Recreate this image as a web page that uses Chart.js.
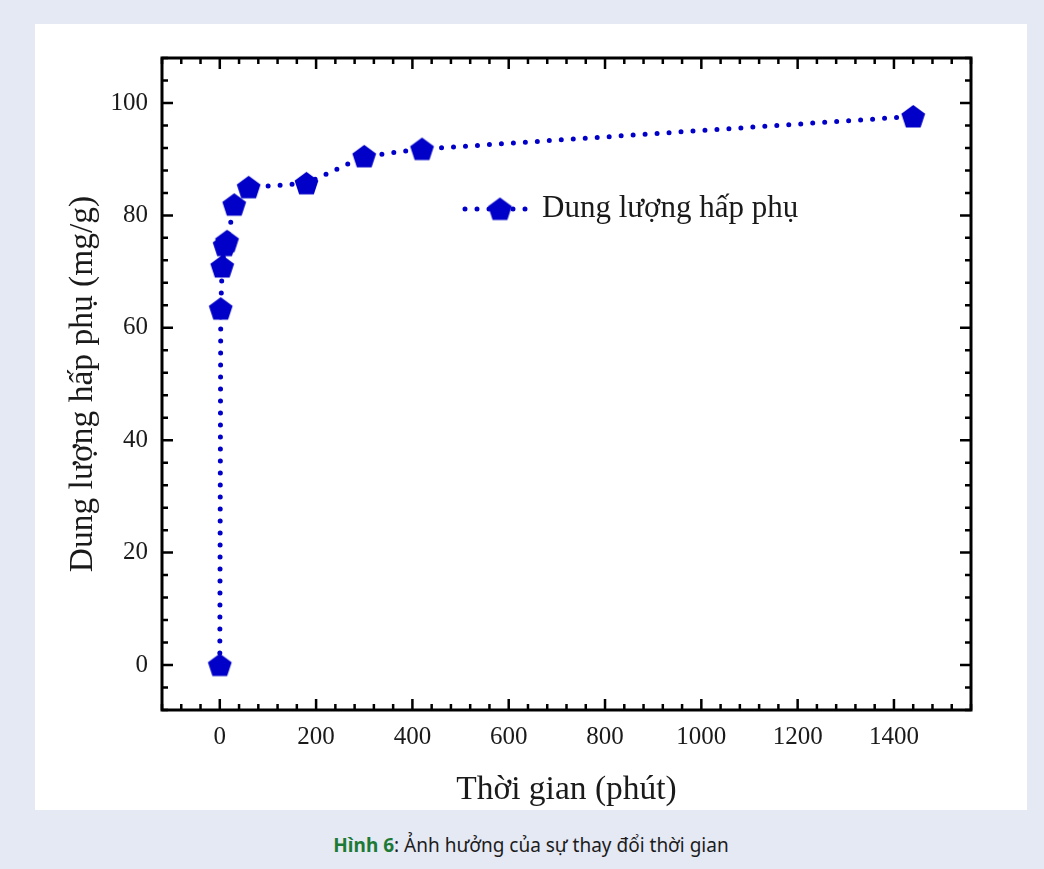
<!DOCTYPE html>
<html lang="vi">
<head>
<meta charset="utf-8">
<title>Hình 6</title>
<script src="https://cdn.jsdelivr.net/npm/chart.js@4.4.1/dist/chart.umd.min.js"></script>
<style>
  html, body { margin: 0; padding: 0; }
  body { width: 1044px; height: 869px; background: #e5e9f4; position: relative; }
  #panel { position: absolute; left: 35px; top: 24px; width: 992px; height: 786px; background: #fff; }
  #panel canvas { display: block; }
  #caption {
    position: absolute; left: 0; width: 1062px; top: 832px; text-align: center;
    font-family: "Noto Sans", "Open Sans", sans-serif; font-size: 19px; color: #1c1c1c;
  }
  #caption b { color: #1d7a36; }
</style>
</head>
<body>
<div id="panel"><canvas id="kineticChart" width="992" height="786"></canvas></div>
<div id="caption"><b>Hình 6</b>: Ảnh hưởng của sự thay đổi thời gian</div>
<script>
// thời gian tiếp xúc (phút) và dung lượng hấp phụ (mg/g)
var times = [0, 2, 5, 10, 15, 30, 60, 180, 300, 420, 1440];
var capacity = [0, 63.4, 70.9, 74.7, 75.4, 81.9, 85.0, 85.7, 90.5, 91.8, 97.6];
var xTicks = [0, 200, 400, 600, 800, 1000, 1200, 1400];
var yTicks = [0, 20, 40, 60, 80, 100];
var seriesName = "Dung lượng hấp phụ";

var blue = "#0000c8";
var serif = "'Liberation Serif', 'Times New Roman', serif";

// pentagon marker
function pentagon(r) {
  var c = document.createElement("canvas");
  c.width = c.height = Math.ceil(r * 2 + 2);
  var g = c.getContext("2d");
  g.translate(c.width / 2, c.height / 2 + 1);
  g.beginPath();
  for (var i = 0; i < 5; i++) {
    var a = -Math.PI / 2 + i * 2 * Math.PI / 5;
    g.lineTo(r * Math.cos(a), r * Math.sin(a));
  }
  g.closePath();
  g.fillStyle = blue;
  g.fill();
  return c;
}
var marker = pentagon(12.5);

// box frame with inward major/minor ticks on all four sides
var frame = {
  id: "frame",
  afterDatasetsDraw: function (chart) {
    var ctx = chart.ctx, a = chart.chartArea;
    var xs = chart.scales.x, ys = chart.scales.y;
    ctx.save();
    ctx.strokeStyle = "#000";
    ctx.lineWidth = 2.5;
    ctx.beginPath();
    for (var v = -120; v <= 1560; v += 40) {
      var px = xs.getPixelForValue(v);
      var len = xTicks.indexOf(v) >= 0 ? 11 : 6;
      ctx.moveTo(px, a.bottom); ctx.lineTo(px, a.bottom - len);
      ctx.moveTo(px, a.top); ctx.lineTo(px, a.top + len);
    }
    for (var w = -8; w <= 108; w += 4) {
      var py = ys.getPixelForValue(w);
      var l2 = yTicks.indexOf(w) >= 0 ? 11 : 6;
      ctx.moveTo(a.left, py); ctx.lineTo(a.left + l2, py);
      ctx.moveTo(a.right, py); ctx.lineTo(a.right - l2, py);
    }
    ctx.stroke();
    ctx.lineWidth = 3;
    ctx.strokeRect(a.left, a.top, a.right - a.left, a.bottom - a.top);
    ctx.restore();
  }
};

// legend sample drawn inside the plot box
var insideLegend = {
  id: "insideLegend",
  afterDraw: function (chart) {
    var ctx = chart.ctx, a = chart.chartArea;
    var x0 = a.left + 303, y0 = a.top + 151;
    ctx.save();
    ctx.strokeStyle = blue;
    ctx.lineWidth = 5;
    ctx.lineCap = "round";
    ctx.setLineDash([0, 12]);
    ctx.beginPath();
    ctx.moveTo(x0, y0); ctx.lineTo(x0 + 66, y0);
    ctx.stroke();
    ctx.drawImage(marker, x0 + 35 - marker.width / 2, y0 - marker.height / 2);
    ctx.fillStyle = "#1a1a1a";
    ctx.font = "31px " + serif;
    ctx.textBaseline = "middle";
    ctx.fillText(seriesName, x0 + 77, y0);
    ctx.restore();
  }
};

new Chart(document.getElementById("kineticChart"), {
  type: "line",
  data: {
    datasets: [
      {
        label: seriesName,
        data: times.map(function (t, i) { return { x: t, y: capacity[i] }; }),
        borderColor: blue,
        backgroundColor: blue,
        borderWidth: 5,
        borderDash: [0, 12],
        borderCapStyle: "round",
        pointStyle: marker,
        pointRadius: 12,
        tension: 0
      }
    ]
  },
  options: {
    responsive: false,
    animation: false,
    layout: { padding: { top: 34, right: 56, left: 0, bottom: 0 } },
    plugins: { legend: { display: false }, tooltip: { enabled: false } },
    scales: {
      x: {
        type: "linear",
        min: -120,
        max: 1560,
        afterBuildTicks: function (s) { s.ticks = xTicks.map(function (v) { return { value: v }; }); },
        afterFit: function (s) { s.height = 100; },
        grid: { display: false, drawTicks: false },
        border: { display: false },
        ticks: { padding: 12, color: "#1a1a1a", font: { family: serif, size: 25 }, callback: function (v) { return String(v); } },
        title: { display: true, text: "Thời gian (phút)", color: "#1a1a1a", padding: { bottom: 0 }, font: { family: serif, size: 33.5 } }
      },
      y: {
        min: -8,
        max: 108,
        afterBuildTicks: function (s) { s.ticks = yTicks.map(function (v) { return { value: v }; }); },
        afterFit: function (s) { s.width = 127; },
        grid: { display: false, drawTicks: false },
        border: { display: false },
        ticks: { padding: 14, color: "#1a1a1a", font: { family: serif, size: 25 }, callback: function (v) { return String(v); } },
        title: { display: true, text: "Dung lượng hấp phụ (mg/g)", color: "#1a1a1a", padding: { top: 28 }, font: { family: serif, size: 33.5 } }
      }
    }
  },
  plugins: [frame, insideLegend]
});
</script>
</body>
</html>
